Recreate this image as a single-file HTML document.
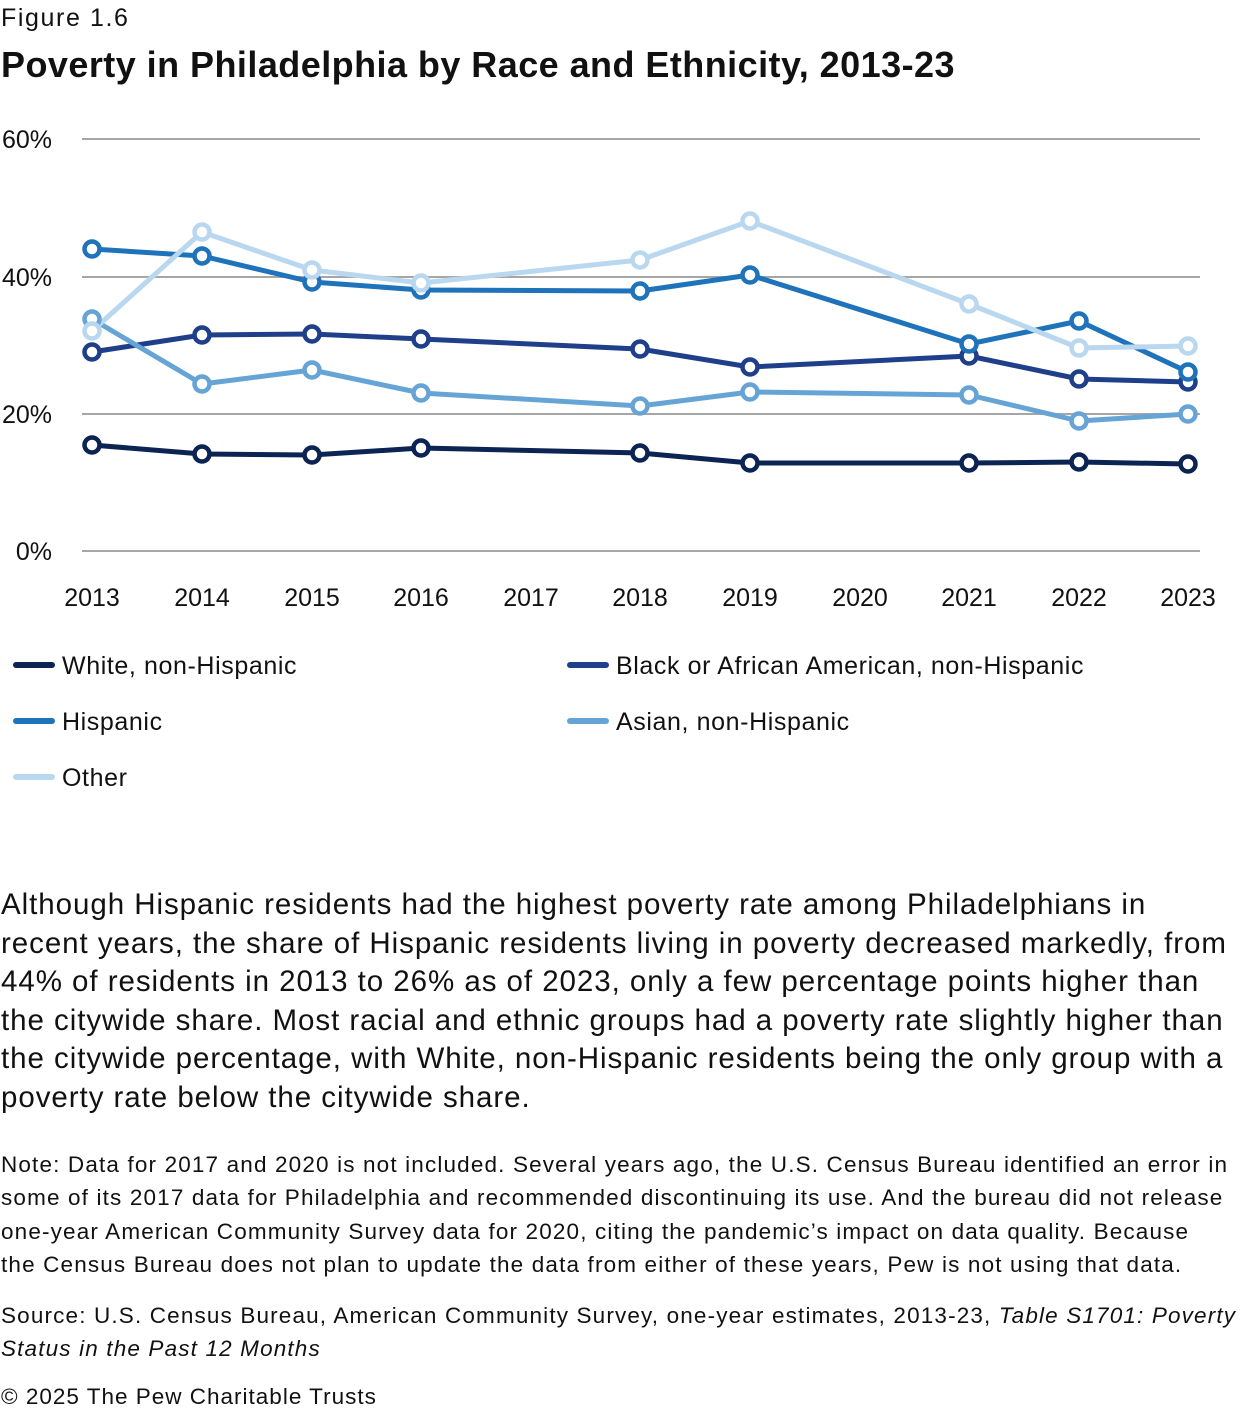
<!DOCTYPE html>
<html><head><meta charset="utf-8"><style>
body{margin:0;width:1240px;height:1416px;background:#fff;font-family:"Liberation Sans",sans-serif;color:#111;position:relative;overflow:hidden}
.a{position:absolute;white-space:nowrap}
</style></head><body>
<div class="a" style="left:1px;top:4px;font-size:25px;letter-spacing:1.6px">Figure 1.6</div>
<div class="a" style="left:1px;top:44px;font-size:36px;font-weight:bold;letter-spacing:0.45px">Poverty in Philadelphia by Race and Ethnicity, 2013-23</div>
<svg class="a" style="left:0;top:0" width="1240" height="820" font-family="Liberation Sans, sans-serif">
<g stroke="#a6a6a6" stroke-width="2">
<line x1="82" y1="139" x2="1200" y2="139"/><line x1="82" y1="277" x2="1200" y2="277"/>
<line x1="82" y1="414" x2="1200" y2="414"/><line x1="82" y1="551" x2="1200" y2="551"/>
</g>
<g font-size="25" fill="#111" text-anchor="end">
<text x="52" y="148">60%</text><text x="52" y="286">40%</text><text x="52" y="423">20%</text><text x="52" y="560">0%</text>
</g>
<g font-size="25" fill="#111" text-anchor="middle">
<text x="92" y="606">2013</text><text x="202" y="606">2014</text><text x="312" y="606">2015</text><text x="421" y="606">2016</text><text x="531" y="606">2017</text><text x="640" y="606">2018</text><text x="750" y="606">2019</text><text x="860" y="606">2020</text><text x="969" y="606">2021</text><text x="1079" y="606">2022</text><text x="1188" y="606">2023</text>
</g>
<g fill="none" stroke-width="5" stroke-linejoin="round">
<polyline stroke="#0c2453" points="92,445 202,454 312,455 421,448 640,453 750,463 969,463 1079,462 1188,464"/>
<polyline stroke="#1f3f8a" points="92,352 202,335 312,334 421,339 640,349 750,367 969,356 1079,379 1188,382"/>
<polyline stroke="#1e73ba" points="92,249 202,256 312,282 421,290 640,291 750,275 969,344 1079,321 1188,372"/>
<polyline stroke="#67a4d6" points="92,319 202,384 312,370 421,393 640,406 750,392 969,395 1079,421 1188,414"/>
<polyline stroke="#b9d7ef" points="92,331 202,232 312,270 421,283 640,260 750,221 969,304 1079,348 1188,346"/>
</g>
<g fill="#fff" stroke-width="4.5">
<g stroke="#0c2453"><circle cx="92" cy="445" r="7.5"/><circle cx="202" cy="454" r="7.5"/><circle cx="312" cy="455" r="7.5"/><circle cx="421" cy="448" r="7.5"/><circle cx="640" cy="453" r="7.5"/><circle cx="750" cy="463" r="7.5"/><circle cx="969" cy="463" r="7.5"/><circle cx="1079" cy="462" r="7.5"/><circle cx="1188" cy="464" r="7.5"/></g>
<g stroke="#1f3f8a"><circle cx="92" cy="352" r="7.5"/><circle cx="202" cy="335" r="7.5"/><circle cx="312" cy="334" r="7.5"/><circle cx="421" cy="339" r="7.5"/><circle cx="640" cy="349" r="7.5"/><circle cx="750" cy="367" r="7.5"/><circle cx="969" cy="356" r="7.5"/><circle cx="1079" cy="379" r="7.5"/><circle cx="1188" cy="382" r="7.5"/></g>
<g stroke="#1e73ba"><circle cx="92" cy="249" r="7.5"/><circle cx="202" cy="256" r="7.5"/><circle cx="312" cy="282" r="7.5"/><circle cx="421" cy="290" r="7.5"/><circle cx="640" cy="291" r="7.5"/><circle cx="750" cy="275" r="7.5"/><circle cx="969" cy="344" r="7.5"/><circle cx="1079" cy="321" r="7.5"/><circle cx="1188" cy="372" r="7.5"/></g>
<g stroke="#67a4d6"><circle cx="92" cy="319" r="7.5"/><circle cx="202" cy="384" r="7.5"/><circle cx="312" cy="370" r="7.5"/><circle cx="421" cy="393" r="7.5"/><circle cx="640" cy="406" r="7.5"/><circle cx="750" cy="392" r="7.5"/><circle cx="969" cy="395" r="7.5"/><circle cx="1079" cy="421" r="7.5"/><circle cx="1188" cy="414" r="7.5"/></g>
<g stroke="#b9d7ef"><circle cx="92" cy="331" r="7.5"/><circle cx="202" cy="232" r="7.5"/><circle cx="312" cy="270" r="7.5"/><circle cx="421" cy="283" r="7.5"/><circle cx="640" cy="260" r="7.5"/><circle cx="750" cy="221" r="7.5"/><circle cx="969" cy="304" r="7.5"/><circle cx="1079" cy="348" r="7.5"/><circle cx="1188" cy="346" r="7.5"/></g>
</g>
<g stroke-width="6" stroke-linecap="round">
<line x1="16" y1="665" x2="52" y2="665" stroke="#0c2453"/>
<line x1="570" y1="665" x2="606" y2="665" stroke="#1f3f8a"/>
<line x1="16" y1="721" x2="52" y2="721" stroke="#1e73ba"/>
<line x1="570" y1="721" x2="606" y2="721" stroke="#67a4d6"/>
<line x1="16" y1="777" x2="52" y2="777" stroke="#b9d7ef"/>
</g>
<g font-size="25" fill="#111" letter-spacing="0.6">
<text x="62" y="674">White, non-Hispanic</text>
<text x="616" y="674">Black or African American, non-Hispanic</text>
<text x="62" y="730">Hispanic</text>
<text x="616" y="730">Asian, non-Hispanic</text>
<text x="62" y="786">Other</text>
</g>
</svg>
<div class="a" style="left:1px;top:886px;font-size:29.5px;line-height:38.5px;letter-spacing:0.95px">Although Hispanic residents had the highest poverty rate among Philadelphians in<br>recent years, the share of Hispanic residents living in poverty decreased markedly, from<br>44% of residents in 2013 to 26% as of 2023, only a few percentage points higher than<br>the citywide share. Most racial and ethnic groups had a poverty rate slightly higher than<br>the citywide percentage, with White, non-Hispanic residents being the only group with a<br>poverty rate below the citywide share.</div>
<div class="a" style="left:1px;top:1148px;font-size:22.5px;line-height:33.3px;letter-spacing:1.15px">Note: Data for 2017 and 2020 is not included. Several years ago, the U.S. Census Bureau identified an error in<br>some of its 2017 data for Philadelphia and recommended discontinuing its use. And the bureau did not release<br>one-year American Community Survey data for 2020, citing the pandemic’s impact on data quality. Because<br>the Census Bureau does not plan to update the data from either of these years, Pew is not using that data.</div>
<div class="a" style="left:1px;top:1299px;font-size:22.5px;line-height:33px;letter-spacing:1.15px">Source: U.S. Census Bureau, American Community Survey, one-year estimates, 2013-23, <i>Table S1701: Poverty<br>Status in the Past 12 Months</i></div>
<div class="a" style="left:1px;top:1384px;font-size:22.5px;letter-spacing:1.0px">© 2025 The Pew Charitable Trusts</div>
</body></html>
